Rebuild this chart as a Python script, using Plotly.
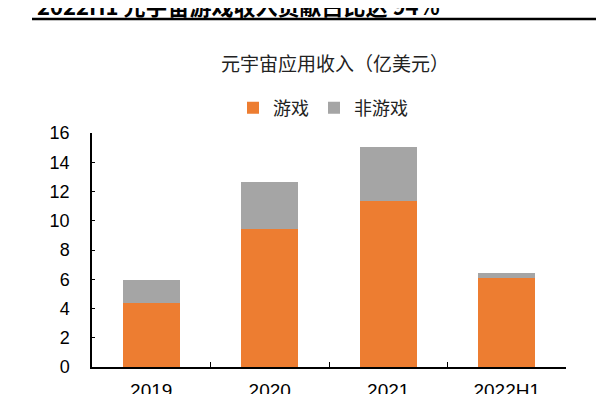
import plotly.graph_objects as go

categories = ["2019", "2020", "2021", "2022H1"]
game = [4.4, 9.45, 11.37, 6.07]
non_game = [1.55, 3.22, 3.7, 0.35]
y_ticks = [0, 2, 4, 6, 8, 10, 12, 14, 16]

FONT = "Arial, Liberation Sans, Noto Sans CJK SC, sans-serif"
CJK = "Noto Sans CJK SC, sans-serif"

# plot area in figure pixels (page body adds an 8px offset)
L, R, T, B = 84, 558, 125, 359
PW, PH = R - L, B - T

def px(x):
    return (x - 8 - L) / PW

def py(y):
    return (B - (y - 8)) / PH

fig = go.Figure()
fig.add_trace(go.Bar(x=categories, y=game, name="游戏", marker_color="#ED7D31",
                     marker_line_width=0))
fig.add_trace(go.Bar(x=categories, y=non_game, name="非游戏", marker_color="#A5A5A5",
                     marker_line_width=0))

fig.update_layout(
    barmode="stack",
    bargap=0.52,
    width=604, height=394,
    margin=dict(l=L, r=604 - R, t=T, b=394 - B, autoexpand=False),
    paper_bgcolor="white", plot_bgcolor="white",
    font=dict(family=FONT, size=18, color="#000000"),
    title=dict(text="元宇宙应用收入（亿美元）", x=(335 - 8) / 604, xanchor="center",
               y=1 - (64 - 8) / 394, yanchor="middle",
               font=dict(family=CJK, size=19, color="#222222")),
    legend=dict(orientation="h", x=px(233), xanchor="left", y=1 - (108 - 8) / 394,
                yanchor="middle", yref="container",
                font=dict(family=CJK, size=18, color="#222222"),
                itemwidth=30, traceorder="normal"),
    showlegend=True,
)
fig.update_xaxes(showline=True, linecolor="black", linewidth=1.5, automargin=False,
                 ticks="inside", tickson="boundaries", ticklen=5, tickcolor="black",
                 ticklabelstandoff=5, showgrid=False,
                 tickfont=dict(family=FONT, size=19, color="black"))
fig.update_yaxes(range=[0, 16], tickvals=y_ticks, showline=True, linecolor="black",
                 linewidth=1.5, ticks="inside", ticklen=3, tickcolor="black",
                 showgrid=False, zeroline=False, automargin=False,
                 ticklabelstandoff=17,
                 tickfont=dict(family=FONT, size=18, color="black"))

fig.add_annotation(text="<b>2022H1 元宇宙游戏收入贡献占比达 94%</b>", xref="paper", yref="paper",
                   x=px(35), xanchor="left", y=py(5), yanchor="middle",
                   showarrow=False, font=dict(family=CJK, size=22, color="black"))
fig.add_shape(type="line", xref="paper", yref="paper",
              x0=px(32), x1=px(596), y0=py(19), y1=py(19),
              line=dict(color="black", width=2.5))

fig.write_html("out.html")
